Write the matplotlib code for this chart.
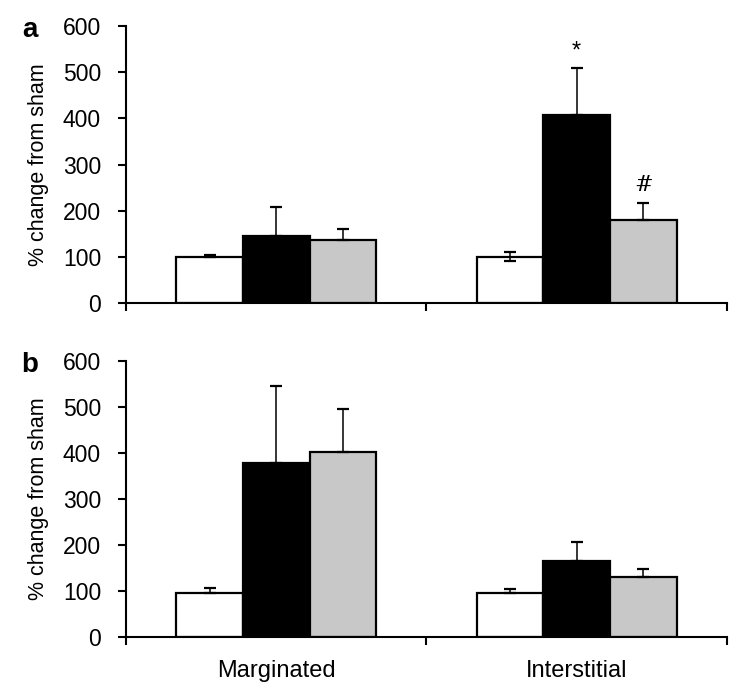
import numpy as np
import matplotlib
matplotlib.use("Agg")
import matplotlib.pyplot as plt

plt.rcParams["font.family"] = ["Liberation Sans", "DejaVu Sans"]

# --- data ---
categories = ["Marginated", "Interstitial"]
series_colors = ["white", "black", "#c8c8c8"]

# panel a
a_means = [[100, 100], [145, 407], [136, 180]]
a_err_up = [[3, 10], [63, 101], [24, 36]]
a_err_lo = [[0, 10], [0, 0], [0, 0]]

# panel b
b_means = [[95, 94], [378, 165], [402, 130]]
b_err_up = [[11, 10], [167, 40], [94, 17]]
b_err_lo = [[0, 0], [0, 0], [0, 0]]

# significance marks (panel a): (category index, series index, text, y)
a_marks = [(1, 1, "*", 545), (1, 2, "#", 255)]

bar_w = 0.222
offsets = [-bar_w, 0.0, bar_w]


def draw_panel(ax, means, err_up, err_lo, letter, show_labels):
    x = np.arange(len(categories)) + 0.5
    for k in range(3):
        xs = x + offsets[k]
        ax.bar(xs, means[k], width=bar_w, color=series_colors[k],
               edgecolor="black", linewidth=1.6, zorder=2)
        ax.errorbar(xs, means[k], yerr=[err_lo[k], err_up[k]], fmt="none",
                    ecolor="black", elinewidth=1.1, capsize=4, capthick=1.6,
                    zorder=3)
    ax.set_xlim(0, 2)
    ax.set_ylim(0, 600)
    ax.set_yticks(np.arange(0, 601, 100))
    ax.set_xticks([0, 1, 2])
    ax.set_xticklabels([])
    if show_labels:
        ax.set_xticks(x, minor=True)
        ax.set_xticklabels(categories, minor=True, fontsize=17)
        ax.tick_params(axis="x", which="minor", length=0, pad=17)
    ax.spines["top"].set_visible(False)
    ax.spines["right"].set_visible(False)
    for s in ["left", "bottom"]:
        ax.spines[s].set_linewidth(1.5)
    ax.tick_params(axis="both", which="major", direction="out", length=6,
                   width=1.5, labelsize=16.5)
    ax.tick_params(axis="y", pad=12)
    ax.set_ylabel("% change from sham", fontsize=15.5, labelpad=10)
    ax.text(-0.16, 0.985, letter, transform=ax.transAxes, fontsize=20,
            fontweight="bold", ha="center", va="center")


fig = plt.figure(figsize=(7.5, 6.95), dpi=100)
ax_a = fig.add_axes([0.168, 0.564, 0.801, 0.3986])
ax_b = fig.add_axes([0.168, 0.084, 0.801, 0.397])

draw_panel(ax_a, a_means, a_err_up, a_err_lo, "a", False)
draw_panel(ax_b, b_means, b_err_up, b_err_lo, "b", True)

for ci, si, txt, yv in a_marks:
    ax_a.text(ci + 0.5 + offsets[si], yv, txt, ha="center", va="center",
              fontsize=17 if txt == "*" else 16,
              family="DejaVu Serif" if txt == "#" else None,
              style="italic" if txt == "#" else "normal")

fig.savefig("out.png", dpi=100)
